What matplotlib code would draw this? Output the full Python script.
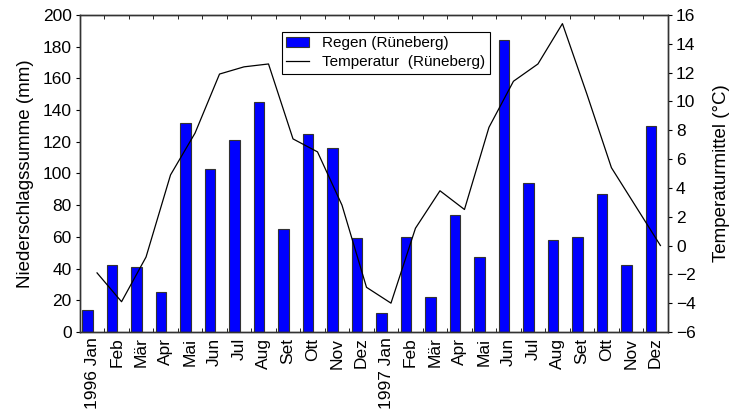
import matplotlib
matplotlib.use("Agg")
import matplotlib.pyplot as plt
import numpy as np

plt.rcParams['font.family'] = ['Liberation Sans', 'DejaVu Sans']

months = ['1996 Jan', 'Feb', 'Mär', 'Apr', 'Mai', 'Jun', 'Jul', 'Aug', 'Set', 'Ott', 'Nov', 'Dez',
          '1997 Jan', 'Feb', 'Mär', 'Apr', 'Mai', 'Jun', 'Jul', 'Aug', 'Set', 'Ott', 'Nov', 'Dez']
regen = [14, 42, 41, 25, 132, 103, 121, 145, 65, 125, 116, 59,
         12, 60, 22, 74, 47, 184, 94, 58, 60, 87, 42, 130]
temperatur = [-1.9, -3.9, -0.8, 4.9, 7.8, 11.9, 12.4, 12.6, 7.4, 6.5, 2.8, -2.9,
              -4.0, 1.2, 3.8, 2.5, 8.2, 11.4, 12.6, 15.4, 10.5, 5.4, 2.7, 0.0]

x = np.arange(len(months))

fig = plt.figure(figsize=(7.33, 4.16), dpi=100)
ax = fig.add_axes([0.109, 0.202, 0.802, 0.762])
ax2 = ax.twinx()

bars = ax.bar(x - 0.19, regen, width=0.42, color='#0000ff', edgecolor='#333333',
              linewidth=0.8)
line, = ax2.plot(x + 0.2, temperatur, color='black', linewidth=0.9)

ax.set_xlim(-0.5, 23.5)
ax.set_ylim(0, 200)
ax.set_yticks(np.arange(0, 201, 20))
ax2.set_ylim(-6, 16)
ax2.set_yticks(np.arange(-6, 17, 2))

ax.set_xticks(x)
ax.set_xticklabels(months, rotation=90, fontsize=12.5)
ax.set_xticks(np.arange(-0.5, 24, 1), minor=True)
ax.tick_params(axis='x', which='major', length=0, pad=4)
ax.tick_params(axis='x', which='minor', direction='in', length=3, top=True, bottom=True)
ax.tick_params(axis='y', direction='out', length=3, pad=3, labelsize=12.5)
ax2.tick_params(axis='y', direction='out', length=3, pad=3, labelsize=12.5)

ax.set_ylabel('Niederschlagssumme (mm)', fontsize=13.5, labelpad=6)
ax2.set_ylabel('Temperaturmittel (°C)', fontsize=13.5, labelpad=12)

for a in (ax, ax2):
    for s in a.spines.values():
        s.set_color('#333333')
        s.set_linewidth(1.0)

leg = ax2.legend([bars, line], ['Regen (Rüneberg)', 'Temperatur  (Rüneberg)'],
                 loc='upper left', bbox_to_anchor=(0.343, 0.947), fontsize=11,
                 fancybox=False, framealpha=1, edgecolor='black',
                 borderpad=0.3, handlelength=1.5, handleheight=0.6, handletextpad=0.85,
                 labelspacing=0.3, borderaxespad=0)
leg.get_frame().set_linewidth(0.8)

fig.savefig('out.png', dpi=100)
